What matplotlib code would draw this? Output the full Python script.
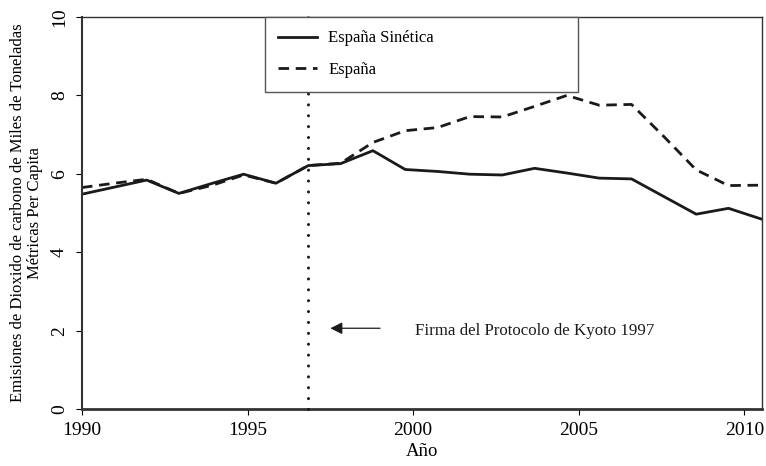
import matplotlib
matplotlib.use("Agg")
import matplotlib.pyplot as plt
import numpy as np

plt.rcParams['font.family'] = ['Liberation Serif', 'DejaVu Serif']

# annual series 1990-2011, drawn compressed onto 1990..2010.5 as in the original
years = np.arange(1990, 2012)
sintetica = [5.48, 5.66, 5.84, 5.50, 5.75, 5.99, 5.76, 6.21, 6.26, 6.59, 6.11,
             6.06, 5.99, 5.97, 6.14, 6.02, 5.89, 5.87, 5.42, 4.97, 5.12, 4.85]
espana = [5.65, 5.76, 5.86, 5.50, 5.70, 5.97, 5.76, 6.21, 6.27, 6.80, 7.10,
          7.18, 7.46, 7.45, 7.72, 8.00, 7.75, 7.77, 6.95, 6.10, 5.70, 5.71]
xpos = 1990 + (years - 1990) * 20.5 / 21
kyoto = 1997

fig = plt.figure(figsize=(7.66, 4.66), dpi=100)
ax = fig.add_axes([0.107, 0.1223, 0.888, 0.8412])

ax.plot(xpos, sintetica, color='#1a1a1a', lw=2.0, label='España Sinética')
ax.plot(xpos, espana, color='#1a1a1a', lw=2.0, dashes=(3.8, 2.4), label='España')

# dotted marker line for the Kyoto year, legend box drawn over it
xk = xpos[list(years).index(kyoto)]
ax.plot([xk, xk], [0, 10], color='#1a1a1a', lw=2.2, dashes=(0.01, 3.55),
        dash_capstyle='round', zorder=3, clip_on=False)

ax.annotate('', xy=(1997.5, 2.06), xytext=(1999.0, 2.06),
            arrowprops=dict(arrowstyle='-|>', color='#1a1a1a', lw=0.9,
                            mutation_scale=18, shrinkA=0, shrinkB=0))
ax.text(2000.05, 2.0, 'Firma del Protocolo de Kyoto 1997', fontsize=12.2,
        va='center', ha='left', color='#1a1a1a')

ax.set_xlim(1990, 2010.54)
ax.set_ylim(0, 10)
ax.set_xticks([1990, 1995, 2000, 2005, 2010])
ax.set_yticks([0, 2, 4, 6, 8, 10])
ax.tick_params(axis='x', labelsize=14, length=4, width=0.8, pad=5)
ax.tick_params(axis='y', labelsize=14, length=4, width=0.8, pad=6)
for t in ax.get_yticklabels():
    t.set_rotation(90)
    t.set_va('center')

ax.spines['bottom'].set_linewidth(2.0)
ax.spines['left'].set_linewidth(1.5)
ax.spines['top'].set_linewidth(1.0)
ax.spines['right'].set_linewidth(1.0)
for s in ax.spines.values():
    s.set_color('#333333')

ax.set_xlabel('Año', fontsize=13.5, labelpad=3)
ax.set_ylabel('Emisiones de Dioxido de carbono de Miles de Toneladas\nMétricas Per Capita',
              fontsize=12, labelpad=6, linespacing=1.05)

leg = ax.legend(loc='upper left', bbox_to_anchor=(0.269, 1.0, 0.46, 0.0),
                mode='expand', fontsize=12, handlelength=2.3, handletextpad=0.7,
                labelspacing=0.95, borderpad=0.8, borderaxespad=0,
                fancybox=False, framealpha=1, edgecolor='#555555')
leg.get_frame().set_linewidth(1.0)
leg.set_zorder(5)

fig.savefig('out.png', dpi=100)
